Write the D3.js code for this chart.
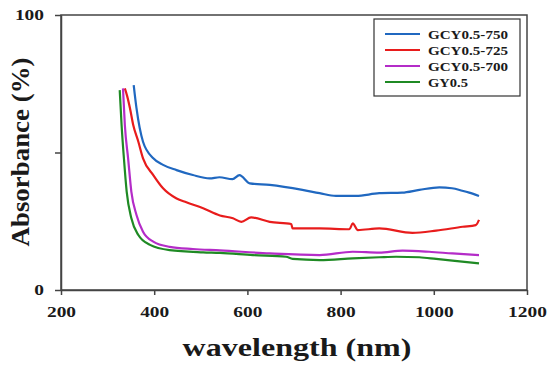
<!DOCTYPE html>
<html>
<head>
<meta charset="utf-8">
<script src="https://cdn.jsdelivr.net/npm/d3@7"></script>
<style>
    body { margin: 0; background: #fff; }
    svg { display: block; }
    text { font-family: "Times New Roman", "Liberation Serif", Times, serif; font-weight: bold; fill: #1a1a1a; }
</style>
</head>
<body>
<svg id="chart" width="548" height="367"></svg>
<script>
// Series values (wavelength nm / absorbance %)
const names = ["GCY0.5-750", "GCY0.5-725", "GCY0.5-700", "GY0.5"];
const colors = ["#2068c0", "#e81c1c", "#b42cc8", "#1f8a24"];

const nm750 = [356, 362, 376, 398, 419, 448, 483, 519, 540, 568, 583, 605, 648, 718, 755, 790, 833, 883, 932, 969, 1012, 1039, 1061, 1076, 1097];
const abs750 = [74.5, 66.1, 53.9, 47.9, 45.5, 43.6, 41.8, 40.6, 41.0, 40.3, 41.8, 38.8, 38.2, 36.4, 35.2, 34.2, 34.2, 35.2, 35.4, 36.4, 37.3, 37.0, 36.1, 35.4, 34.2];

const nm725 = [337, 342, 348, 355, 366, 376, 398, 419, 448, 469, 505, 541, 569, 587, 608, 648, 694, 697, 755, 819, 826, 837, 883, 954, 1005, 1062, 1090, 1097];
const abs725 = [73.3, 70.5, 66.1, 60.0, 53.9, 47.9, 41.8, 37.0, 33.3, 31.9, 29.7, 27.1, 26.1, 24.8, 26.4, 24.8, 24.0, 22.4, 22.4, 22.1, 24.2, 21.8, 22.4, 20.8, 21.6, 23.0, 23.6, 25.5];

const nm700 = [333, 337, 344, 351, 362, 376, 398, 433, 483, 541, 648, 755, 826, 883, 933, 990, 1040, 1097];
const abs700 = [73.3, 60.0, 47.9, 35.7, 27.3, 21.2, 17.6, 15.7, 14.9, 14.4, 13.3, 12.7, 13.9, 13.6, 14.3, 13.9, 13.3, 12.7];

const nmGY = [326, 330, 335, 341, 351, 366, 391, 433, 505, 541, 612, 683, 697, 755, 826, 883, 919, 969, 1005, 1040, 1097];
const absGY = [72.7, 60.0, 47.9, 35.7, 26.1, 20.0, 16.4, 14.5, 13.7, 13.5, 12.7, 12.1, 11.3, 10.9, 11.5, 11.9, 12.1, 11.9, 11.3, 10.7, 9.7];

const xTicks = [200, 400, 600, 800, 1000, 1200];
const yTicks = [0, 50, 100];
const yTickLabels = ["0", "", "100"];

const series = [
    { name: names[0], color: colors[0], nm: nm750, abs: abs750 },
    { name: names[1], color: colors[1], nm: nm725, abs: abs725 },
    { name: names[2], color: colors[2], nm: nm700, abs: abs700 },
    { name: names[3], color: colors[3], nm: nmGY, abs: absGY }
];

(function () {
    const svg = d3.select("#chart");
    const plotLeft = 61, plotRight = 527, plotTop = 15, plotBottom = 290;
    const fontStack = "'Times New Roman', 'Liberation Serif', Times, serif";

    const x = d3.scaleLinear().domain([200, 1200]).range([plotLeft, plotRight]);
    const y = d3.scaleLinear().domain([0, 100]).range([plotBottom, plotTop]);

    // Frame
    svg.append("rect")
        .attr("x", plotLeft).attr("y", plotTop)
        .attr("width", plotRight - plotLeft).attr("height", plotBottom - plotTop)
        .attr("fill", "none").attr("stroke", "#444").attr("stroke-width", 1.5);

    // Axes
    const xAxis = svg.append("g")
        .attr("transform", `translate(0,${plotBottom})`)
        .call(d3.axisBottom(x).tickValues(xTicks).tickSize(5).tickSizeOuter(0).tickPadding(6)
            .tickFormat(d3.format("d")));
    const yAxis = svg.append("g")
        .attr("transform", `translate(${plotLeft},0)`)
        .call(d3.axisLeft(y).tickValues(yTicks).tickSize(6).tickSizeOuter(0).tickPadding(11)
            .tickFormat((d, i) => yTickLabels[i]));

    [xAxis, yAxis].forEach(g => {
        g.select(".domain").attr("stroke", "#444").attr("stroke-width", 1.5);
        g.selectAll(".tick line").attr("stroke", "#444").attr("stroke-width", 1.5);
        g.selectAll(".tick text")
            .attr("font-family", fontStack)
            .attr("font-weight", "bold")
            .attr("font-size", 15)
            .attr("fill", "#1a1a1a")
            .attr("lengthAdjust", "spacingAndGlyphs")
            .attr("textLength", function () { return this.textContent.length * 9.7; });
    });
    xAxis.selectAll(".tick text").attr("dy", "1.05em");

    // Lines
    const line = d3.line()
        .x(d => x(d[0]))
        .y(d => y(d[1]))
        .curve(d3.curveMonotoneX);

    series.forEach(s => {
        svg.append("path")
            .datum(d3.zip(s.nm, s.abs))
            .attr("d", line)
            .attr("fill", "none")
            .attr("stroke", s.color)
            .attr("stroke-width", 2.2)
            .attr("stroke-linejoin", "round");
    });

    // Axis titles
    svg.append("text")
        .attr("x", 297).attr("y", 356)
        .attr("text-anchor", "middle")
        .attr("font-size", 26)
        .attr("textLength", 229)
        .attr("lengthAdjust", "spacingAndGlyphs")
        .text("wavelength (nm)");

    svg.append("text")
        .attr("transform", "translate(29,152) rotate(-90)")
        .attr("text-anchor", "middle")
        .attr("font-size", 26)
        .attr("textLength", 189)
        .attr("lengthAdjust", "spacingAndGlyphs")
        .text("Absorbance (%)");

    // Legend
    const legend = svg.append("g");
    legend.append("rect")
        .attr("x", 374).attr("y", 19)
        .attr("width", 146).attr("height", 77)
        .attr("fill", "#fff").attr("stroke", "#333").attr("stroke-width", 1.2);

    series.forEach((s, i) => {
        const ly = 34 + i * 16;
        legend.append("line")
            .attr("x1", 385).attr("x2", 420)
            .attr("y1", ly).attr("y2", ly)
            .attr("stroke", s.color).attr("stroke-width", 2.2);
        legend.append("text")
            .attr("x", 428).attr("y", ly + 4.5)
            .attr("font-size", 13.5)
            .attr("textLength", s.name.length * 8)
            .attr("lengthAdjust", "spacingAndGlyphs")
            .text(s.name);
    });
})();
</script>
</body>
</html>
